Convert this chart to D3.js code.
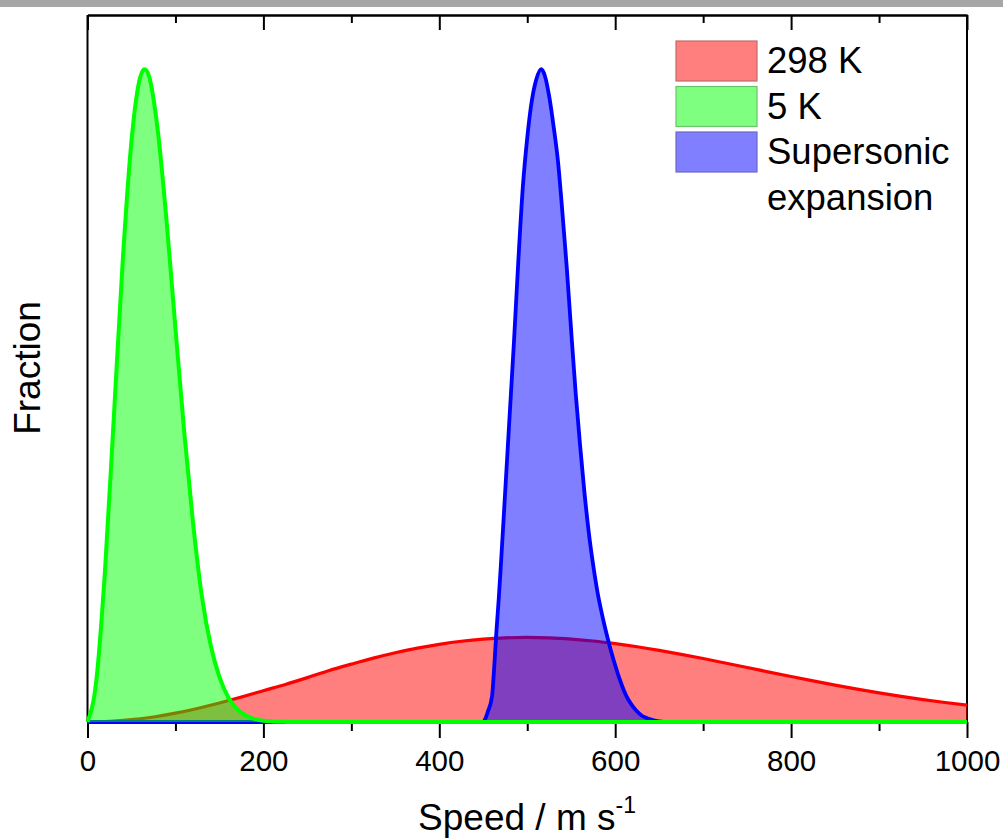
<!DOCTYPE html>
<html>
<head>
<meta charset="utf-8">
<script src="https://cdn.jsdelivr.net/npm/d3@7"></script>
<style>
  html, body { margin: 0; padding: 0; background: #ffffff; }
  svg { display: block; font-family: "Liberation Sans", Arial, sans-serif; }
</style>
</head>
<body>
<svg id="chart" width="1003" height="840"></svg>
<script>
// Speed distributions (fraction, normalised to the tallest peak)
const seriesNames = ["298 K", "5 K", "Supersonic expansion"];

const roomSpeed = [0, 25, 50, 75, 100, 125, 150, 175, 200, 225, 250, 275, 300, 325, 350, 375,
  400, 425, 450, 475, 500, 525, 550, 575, 600, 625, 650, 675, 700, 725, 750, 775,
  800, 825, 850, 875, 900, 925, 950, 975, 1000];
const roomFraction = [0, 0.0009, 0.0035, 0.0077, 0.0135, 0.0207, 0.0290, 0.0382, 0.0480, 0.0575,
  0.0680, 0.0790, 0.0886, 0.0978, 0.1060, 0.1132, 0.1190, 0.1237, 0.1270, 0.1289, 0.1295,
  0.1289, 0.1270, 0.1241, 0.1201, 0.1153, 0.1098, 0.1037, 0.0972, 0.0904, 0.0835, 0.0765,
  0.0697, 0.0630, 0.0565, 0.0504, 0.0447, 0.0393, 0.0344, 0.0299, 0.0258];

const coldSpeed = [0, 10, 20, 30, 40, 50, 60, 65, 70, 80, 90, 100, 110, 120, 130, 140, 150,
  160, 170, 180, 190, 200, 210, 220, 230, 1000];
const coldFraction = [0, 0.063, 0.234, 0.468, 0.705, 0.890, 0.988, 1.000, 0.989, 0.905, 0.766,
  0.603, 0.444, 0.305, 0.193, 0.118, 0.069, 0.038, 0.020, 0.010, 0.0045, 0.002, 0.0009,
  0.0004, 0, 0];

const beamSpeed = [0, 450, 452, 455, 460, 462, 465, 467.5, 470, 475, 480, 485, 490, 495, 500,
  505, 510, 516, 520, 525, 530, 535, 540, 545, 550, 555, 560, 565, 570, 575, 580, 585, 590,
  595, 600, 605, 610, 615, 620, 625, 630, 635, 640, 645, 650, 655];
const beamFraction = [0, 0, 0.004, 0.015, 0.040, 0.075, 0.140, 0.187, 0.240, 0.355, 0.470,
  0.585, 0.710, 0.820, 0.895, 0.950, 0.983, 1.000, 0.990, 0.958, 0.912, 0.858, 0.780, 0.695,
  0.598, 0.505, 0.425, 0.352, 0.290, 0.240, 0.198, 0.165, 0.136, 0.110, 0.087, 0.066, 0.048,
  0.034, 0.024, 0.016, 0.010, 0.0065, 0.004, 0.002, 0.001, 0];

const majorTicks = [0, 200, 400, 600, 800, 1000];
const tickLabels = ["0", "200", "400", "600", "800", "1000"];
const minorTicks = [100, 300, 500, 700, 900];

const lineColors = ["#ff0000", "#00ff00", "#0000ff"];
const edgeColors = ["#c46a6a", "#6ac46a", "#6a6ac4"];

const svg = d3.select("#chart");

// thin grey strip along the top edge
svg.append("rect").attr("x", 0).attr("y", 0).attr("width", 1003).attr("height", 7)
  .attr("fill", "#a6a6a6");

const x = d3.scaleLinear().domain([0, 1000]).range([87.5, 967]);
const y = d3.scaleLinear().domain([0, 1.083]).range([722, 15]);

// frame: left and right edges
svg.append("line").attr("x1", x(0)).attr("x2", x(0)).attr("y1", y.range()[1]).attr("y2", y(0))
  .attr("stroke", "#000").attr("stroke-width", 2);
svg.append("line").attr("x1", x(1000)).attr("x2", x(1000)).attr("y1", y.range()[1]).attr("y2", y(0))
  .attr("stroke", "#000").attr("stroke-width", 2);

// bottom axis: labelled majors, short minors
const bottomAxis = svg.append("g").attr("transform", `translate(0,${y(0)})`);
bottomAxis.call(d3.axisBottom(x).tickValues(majorTicks).tickSize(16).tickSizeOuter(0)
  .tickPadding(12).tickFormat((d, i) => tickLabels[i]));
bottomAxis.append("g").call(d3.axisBottom(x).tickValues(minorTicks).tickSize(9).tickSizeOuter(0)
  .tickFormat(""));
bottomAxis.selectAll("path.domain").attr("stroke", "#000").attr("stroke-width", 2);
bottomAxis.selectAll(".tick line").attr("stroke", "#000").attr("stroke-width", 2);
bottomAxis.selectAll(".tick text").attr("font-size", 29.5).attr("fill", "#000")
  .attr("font-family", "'Liberation Sans', Arial, sans-serif");

// top axis: ticks pointing into the plot, no labels
const topAxis = svg.append("g").attr("transform", `translate(0,${y.range()[1]})`);
topAxis.call(d3.axisTop(x).tickValues(majorTicks).tickSize(-15).tickSizeOuter(0).tickFormat(""));
topAxis.append("g").call(d3.axisTop(x).tickValues(minorTicks).tickSize(-8).tickSizeOuter(0)
  .tickFormat(""));
topAxis.selectAll("path.domain").attr("stroke", "#000").attr("stroke-width", 2);
topAxis.selectAll(".tick line").attr("stroke", "#000").attr("stroke-width", 2);

// curves: filled at half opacity, then outlined; drawn room temp, beam, cold
const series = [
  { speed: roomSpeed, frac: roomFraction, color: lineColors[0], w: 3.2 },
  { speed: beamSpeed, frac: beamFraction, color: lineColors[2], w: 3.8 },
  { speed: coldSpeed, frac: coldFraction, color: lineColors[1], w: 4 }
];

series.forEach(s => {
  const pts = s.speed.map((v, i) => [v, s.frac[i]]);
  const area = d3.area().x(d => x(d[0])).y0(y(0)).y1(d => y(d[1])).curve(d3.curveMonotoneX);
  const line = d3.line().x(d => x(d[0])).y(d => y(d[1])).curve(d3.curveMonotoneX);
  svg.append("path").datum(pts).attr("d", area)
    .attr("fill", s.color).attr("fill-opacity", 0.5);
  svg.append("path").datum(pts).attr("d", line)
    .attr("fill", "none").attr("stroke", s.color).attr("stroke-width", s.w)
    .attr("stroke-linejoin", "round");
});

// axis titles
svg.append("text").attr("transform", "translate(40,368) rotate(-90)")
  .attr("text-anchor", "middle").attr("font-size", 37).attr("fill", "#000").text("Fraction");

const xt = svg.append("text").attr("x", 527).attr("y", 830).attr("text-anchor", "middle")
  .attr("font-size", 37).attr("fill", "#000");
xt.append("tspan").text("Speed / m s");
xt.append("tspan").attr("dy", -17).attr("font-size", 23).text("-1");

// legend
const legendOrder = [0, 1, 2];
const legend = svg.append("g");
legendOrder.forEach((k, i) => {
  const yy = 41 + i * 45.5;
  legend.append("rect").attr("x", 676).attr("y", yy).attr("width", 81).attr("height", 40)
    .attr("fill", lineColors[k]).attr("fill-opacity", 0.5)
    .attr("stroke", edgeColors[k]).attr("stroke-width", 1.2);
});
const legendLines = [["298 K"], ["5 K"], ["Supersonic", "expansion"]];
let row = 0;
legendLines.forEach(parts => {
  parts.forEach(p => {
    legend.append("text").attr("x", 767).attr("y", 73 + row * 45.5)
      .attr("font-size", 36.5).attr("fill", "#000").text(p);
    row++;
  });
});
</script>
</body>
</html>
